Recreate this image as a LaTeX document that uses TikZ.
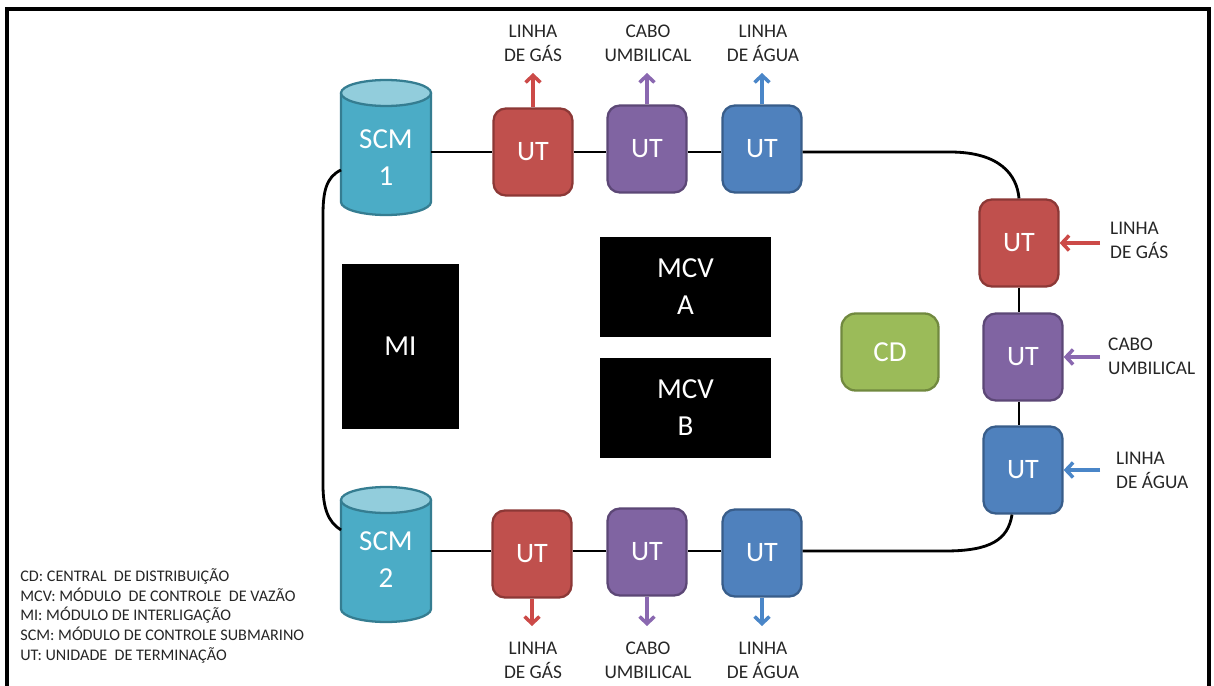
\documentclass[tikz,border=0pt]{standalone}
\usepackage{fontspec}
\setmainfont{Carlito}
\usetikzlibrary{arrows.meta}

\definecolor{gasfill}{HTML}{C0504D}\definecolor{gasline}{HTML}{8C3836}
\definecolor{cabofill}{HTML}{8064A2}\definecolor{caboline}{HTML}{5C4776}
\definecolor{aguafill}{HTML}{4F81BD}\definecolor{agualine}{HTML}{385D8A}
\definecolor{scmfill}{HTML}{4BACC6}\definecolor{scmline}{HTML}{357D91}
\definecolor{scmtop}{HTML}{92CDDC}
\definecolor{cdfill}{HTML}{9BBB59}\definecolor{cdline}{HTML}{71893F}
\definecolor{gasarrow}{HTML}{CC4A48}
\definecolor{caboarrow}{HTML}{8A68B0}
\definecolor{aguaarrow}{HTML}{4A86C8}

\tikzset{
  bigtext/.style={text=white, font=\fontsize{16.5}{21}\selectfont, align=center},
  utbox/.style={rounded corners=7pt, line width=1.3pt, minimum width=1.58cm,
    minimum height=1.74cm, inner sep=0pt, text=white,
    font=\fontsize{16}{19}\selectfont},
  gasbox/.style={utbox, fill=gasfill, draw=gasline},
  cabobox/.style={utbox, fill=cabofill, draw=caboline},
  aguabox/.style={utbox, fill=aguafill, draw=agualine},
  blackbox/.style={bigtext, fill=black, inner sep=0pt},
  link/.style={line width=1.6pt, black},
  feed/.style={line width=2pt, -{Straight Barb[length=4pt,width=8.5pt,line width=2pt]}},
  lbl/.style={font=\fontsize{11}{13.6}\selectfont, align=center, text=black!85},
  rlbl/.style={lbl, align=left, anchor=west},
  scmcyl/.pic={
    \fill[scmfill] (-45,0) -- (-45,109)
      arc[start angle=180, end angle=360, x radius=0.9cm, y radius=0.26cm]
      -- (45,0)
      arc[start angle=0, end angle=180, x radius=0.9cm, y radius=0.26cm] -- cycle;
    \draw[scmline, line width=1.3pt] (-45,0) -- (-45,109)
      arc[start angle=180, end angle=360, x radius=0.9cm, y radius=0.26cm]
      -- (45,0);
    \draw[scmline, line width=1.3pt, fill=scmtop] (0,0)
      ellipse[x radius=0.9cm, y radius=0.26cm];
  }
}

\begin{document}
\begin{tikzpicture}[x=0.02cm, y=-0.02cm]
\clip (0,0) rectangle (1214,686);
\fill[white] (0,0) rectangle (1214,686);
% outer frame
\draw[line width=2.3pt] (7,9) rectangle (1209,720);

% submarine control modules
\pic at (386,93) {scmcyl};
\pic at (386,500) {scmcyl};
\node[bigtext, minimum width=1.8cm, minimum height=2.2cm, inner sep=0pt] (scm1) at (386,158) {SCM\\1};
\node[bigtext, minimum width=1.8cm, minimum height=2.2cm, inner sep=0pt] (scm2) at (386,560) {SCM\\2};

% central modules
\node[blackbox, minimum width=2.34cm, minimum height=3.3cm] (mi) at (400.5,346.5) {MI};
\node[blackbox, minimum width=3.42cm, minimum height=2.0cm] (mcva) at (685.5,287) {MCV\\A};
\node[blackbox, minimum width=3.42cm, minimum height=2.0cm] (mcvb) at (685.5,408) {MCV\\B};
\node[bigtext, fill=cdfill, draw=cdline, line width=1.3pt, rounded corners=8pt,
  minimum width=1.94cm, minimum height=1.54cm, inner sep=0pt] (cd) at (890,352) {CD};

% termination units, top row
\node[gasbox]  (ut1) at (533,152) {UT};
\node[cabobox] (ut2) at (647,149) {UT};
\node[aguabox] (ut3) at (762,149) {UT};
% right column
\node[gasbox]  (ut4) at (1019,243) {UT};
\node[cabobox] (ut5) at (1023,357) {UT};
\node[aguabox] (ut6) at (1023,470) {UT};
% bottom row
\node[gasbox]  (ut7) at (532,554) {UT};
\node[cabobox] (ut8) at (647,552) {UT};
\node[aguabox] (ut9) at (762,553) {UT};

% ring connecting the units
\coordinate (tc) at (950,152);
\coordinate (bc) at (945,551);
\draw[link] (scm1.east |- 0,152) -- (ut1.west);
\draw[link] (ut1.east) -- (ut1.east -| ut2.west);
\draw[link] (ut2.east |- ut1.east) -- (ut1.east -| ut3.west);
\draw[link] (ut3.east |- ut1.east) -- (tc) .. controls (1000,152) and (1017,175) .. (ut4.north);
\draw[link] (ut4.south) -- (ut4.south |- ut5.north);
\draw[link] (ut5.south -| ut4.south) -- (ut4.south |- ut6.north);
\draw[link] (ut6.south -| 1012,0) .. controls (1008,540) and (990,551) .. (bc) -- (ut9.east |- bc);
\draw[link] (ut9.west |- bc) -- (ut8.east |- bc);
\draw[link] (ut8.west |- bc) -- (ut7.east |- bc);
\draw[link] (ut7.west |- bc) -- (scm2.east |- bc);
\coordinate (lt) at (341,170);
\coordinate (lb) at (341,530);
\draw[link] (lt) .. controls (326,177) and (323,192) .. (323,215) -- (323,485)
  .. controls (323,508) and (328,522) .. (lb);

% lines leaving the units
\coordinate (a1) at (533,73);  \coordinate (a2) at (647,73);  \coordinate (a3) at (762,73);
\draw[feed, gasarrow]  (ut1.north) -- (a1);
\draw[feed, caboarrow] (ut2.north) -- (a2);
\draw[feed, aguaarrow] (ut3.north) -- (a3);
\coordinate (a4) at (1100,243); \coordinate (a5) at (1100,357); \coordinate (a6) at (1100,470);
\draw[feed, gasarrow]  (a4) -- (ut4.east);
\draw[feed, caboarrow] (a5) -- (ut5.east);
\draw[feed, aguaarrow] (a6) -- (ut6.east);
\coordinate (a7) at (532,626); \coordinate (a8) at (647,626); \coordinate (a9) at (762,626);
\draw[feed, gasarrow]  (ut7.south) -- (a7);
\draw[feed, caboarrow] (ut8.south) -- (a8);
\draw[feed, aguaarrow] (ut9.south) -- (a9);

% line labels
\node[lbl] (l1) at (533,43) {LINHA\\DE GÁS};
\node[lbl] (l2) at (648,43) {CABO\\UMBILICAL};
\node[lbl] (l3) at (763,43) {LINHA\\DE ÁGUA};
\node[rlbl] (l4) at (1104,240) {LINHA\\DE GÁS};
\node[rlbl] (l5) at (1102,356) {CABO\\UMBILICAL};
\node[rlbl] (l6) at (1110,470) {LINHA\\DE ÁGUA};
\node[lbl] (l7) at (533,660) {LINHA\\DE GÁS};
\node[lbl] (l8) at (648,660) {CABO\\UMBILICAL};
\node[lbl] (l9) at (763,660) {LINHA\\DE ÁGUA};

% legend
\node[anchor=north west, align=left, inner sep=0pt, text=black!85,
  font=\fontsize{9.2}{11.3}\selectfont] (legend) at (20,568)
  {CD: CENTRAL \ DE DISTRIBUIÇÃO\\
   MCV: MÓDULO \ DE CONTROLE \ DE VAZÃO\\
   MI: MÓDULO DE INTERLIGAÇÃO\\
   SCM: MÓDULO DE CONTROLE SUBMARINO\\
   UT: UNIDADE \ DE TERMINAÇÃO};
\end{tikzpicture}
\end{document}
